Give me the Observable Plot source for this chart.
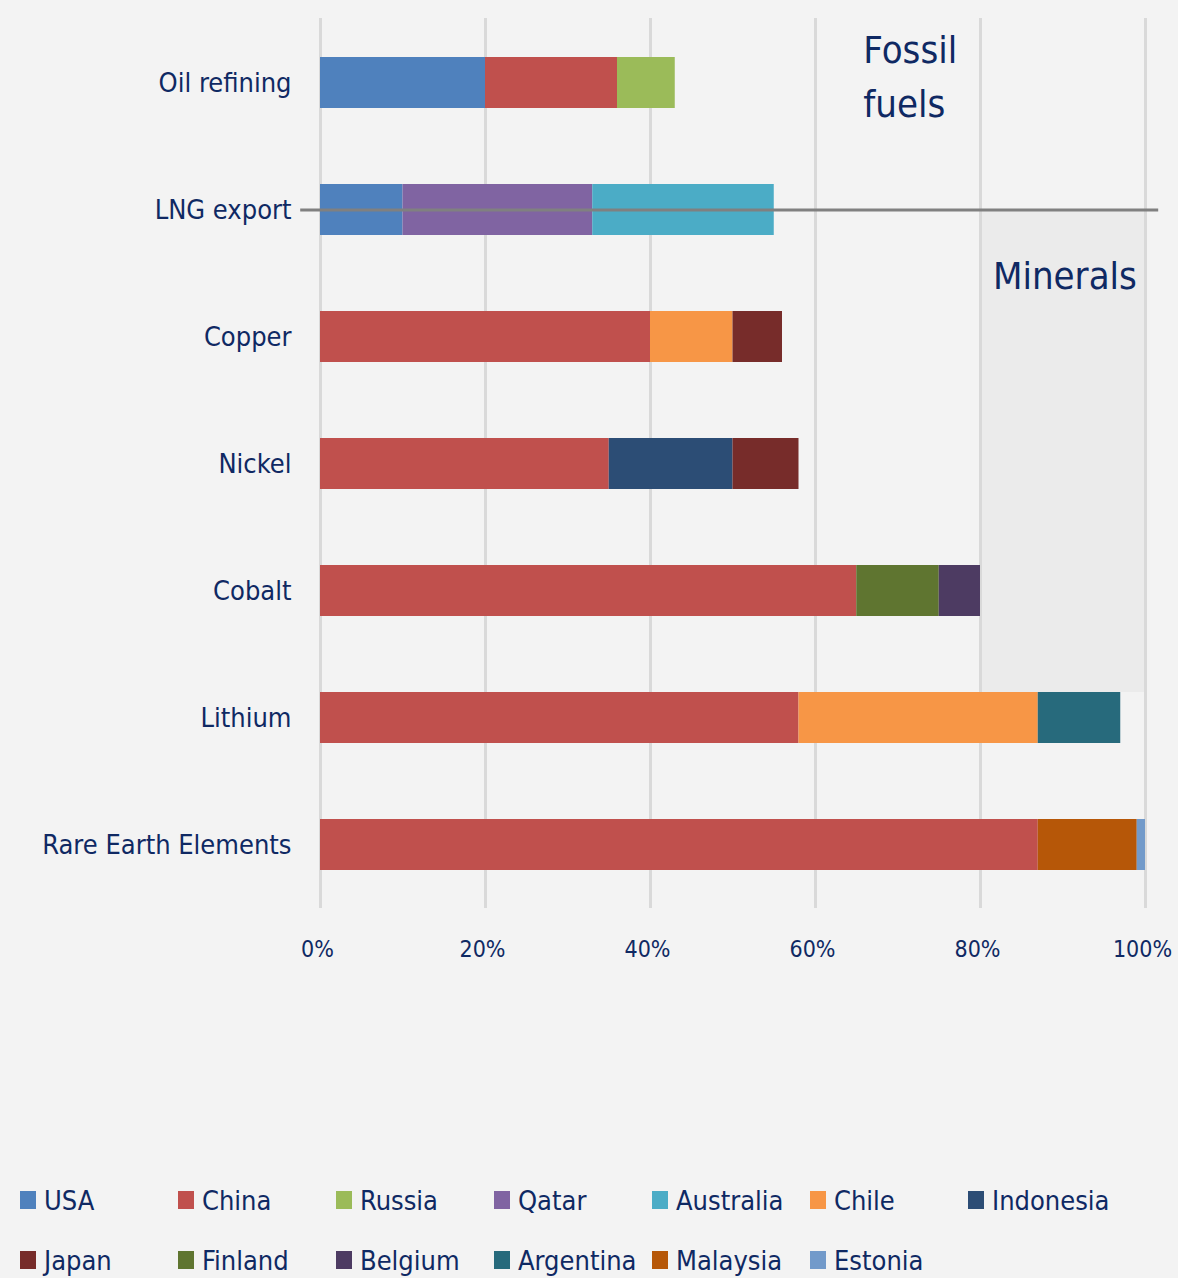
<!DOCTYPE html>
<html>
<head>
<meta charset="utf-8">
<script src="https://cdn.jsdelivr.net/npm/d3@7"></script>
<script src="https://cdn.jsdelivr.net/npm/@observablehq/plot@0.6"></script>
<style>
  html, body { margin: 0; padding: 0; background: #f3f3f3; }
  body { width: 1178px; height: 1278px; overflow: hidden; font-family: "DejaVu Sans Condensed", "DejaVu Sans", sans-serif; color: #0f2963; }
  #legend { position: absolute; left: 20px; top: 1170px; width: 1158px; display: flex; flex-wrap: wrap; }
  .item { width: 158px; height: 60px; display: flex; align-items: center; font-size: 27px; white-space: nowrap; }
  .sw { width: 16px; height: 18px; margin-right: 8px; flex: none; }
</style>
</head>
<body>
<div id="chart"></div>
<div id="legend"></div>
<script>
const categories = ["Oil refining", "LNG export", "Copper", "Nickel", "Cobalt", "Lithium", "Rare Earth Elements"];
const countries = ["USA", "China", "Russia", "Qatar", "Australia", "Chile", "Indonesia", "Japan", "Finland", "Belgium", "Argentina", "Malaysia", "Estonia"];
const countryColors = ["#4f81bd", "#c0504d", "#9bbb59", "#8064a2", "#4bacc6", "#f79646", "#2c4d75", "#772c2a", "#5f7530", "#4d3b62", "#276a7c", "#b65708", "#729aca"];

// shares (%) by category, in stacking order
const oilRefining = [["USA", 20], ["China", 16], ["Russia", 7]];
const lngExport = [["USA", 10], ["Qatar", 23], ["Australia", 22]];
const copper = [["China", 40], ["Chile", 10], ["Japan", 6]];
const nickel = [["China", 35], ["Indonesia", 15], ["Japan", 8]];
const cobalt = [["China", 65], ["Finland", 10], ["Belgium", 5]];
const lithium = [["China", 58], ["Chile", 29], ["Argentina", 10]];
const rareEarths = [["China", 87], ["Malaysia", 12], ["Estonia", 1]];
const xTicks = [0, 20, 40, 60, 80, 100];

// annotations
const fossilLabel = [{text: "Fossil\nfuels", x: 65.8, y: "Oil refining"}];
const mineralsLabel = [{text: "Minerals", x: 81.5, y: "LNG export"}];
const dividerX = [-2.4, 101.6];
const mineralsSpan = [80, 100];

const seriesByCategory = [oilRefining, lngExport, copper, nickel, cobalt, lithium, rareEarths];
const data = seriesByCategory.flatMap((rows, i) => rows.map(([country, value]) => ({category: categories[i], country, value})));

const textColor = "#0f2963";
const font = "DejaVu Sans Condensed, DejaVu Sans, sans-serif";

const shade = (index, scales) => {
  const y = scales.y, x = scales.x;
  const step = y(categories[2]) - y(categories[1]);
  const top = y(categories[1]) + step * 0.2 + 1;
  const bottom = y(categories[5]);
  const r = document.createElementNS("http://www.w3.org/2000/svg", "rect");
  r.setAttribute("x", x(mineralsSpan[0]));
  r.setAttribute("width", x(mineralsSpan[1]) - x(mineralsSpan[0]));
  r.setAttribute("y", top);
  r.setAttribute("height", bottom - top);
  r.setAttribute("fill", "#ebebeb");
  return r;
};

const chart = Plot.plot({
  width: 1178,
  height: 1000,
  marginLeft: 320,
  marginRight: 33,
  marginTop: 18,
  marginBottom: 92,
  style: {background: "#f3f3f3", fontFamily: font, color: textColor, overflow: "visible"},
  x: {domain: [0, 100], ticks: xTicks, tickFormat: d => d + "%", label: null, tickSize: 0, tickPadding: 32},
  y: {domain: categories, label: null, paddingInner: 0.6, paddingOuter: 0.3, tickSize: 0, tickPadding: 29},
  color: {domain: countries, range: countryColors},
  marks: [
    shade,
    Plot.gridX(xTicks, {stroke: "#d9d9d9", strokeOpacity: 1, strokeWidth: 3}),
    Plot.barX(data, Plot.stackX({x: "value", y: "category", fill: "country", order: null})),
    Plot.ruleY([categories[1]], {x1: dividerX[0], x2: dividerX[1], stroke: "#808080", strokeWidth: 3, clip: false}),
    Plot.axisX({ticks: xTicks, tickFormat: d => d + "%", tickSize: 0, tickPadding: 32, fontSize: 23, fill: textColor, label: null, dx: -3}),
    Plot.axisY({tickSize: 0, tickPadding: 29, fontSize: 27, fill: textColor, label: null}),
    Plot.text(fossilLabel, {x: "x", y: "y", text: "text", dy: -10, textAnchor: "start", lineAnchor: "middle", lineHeight: 1.4, fontSize: 38, fill: textColor}),
    Plot.text(mineralsLabel, {x: "x", y: "y", text: "text", dy: 67, textAnchor: "start", lineAnchor: "middle", fontSize: 38, fill: textColor})
  ]
});
document.getElementById("chart").appendChild(chart);

const legend = document.getElementById("legend");
countries.forEach((c, i) => {
  const item = document.createElement("div");
  item.className = "item";
  const sw = document.createElement("span");
  sw.className = "sw";
  sw.style.background = countryColors[i];
  item.appendChild(sw);
  item.appendChild(document.createTextNode(c));
  legend.appendChild(item);
});
</script>
</body>
</html>
